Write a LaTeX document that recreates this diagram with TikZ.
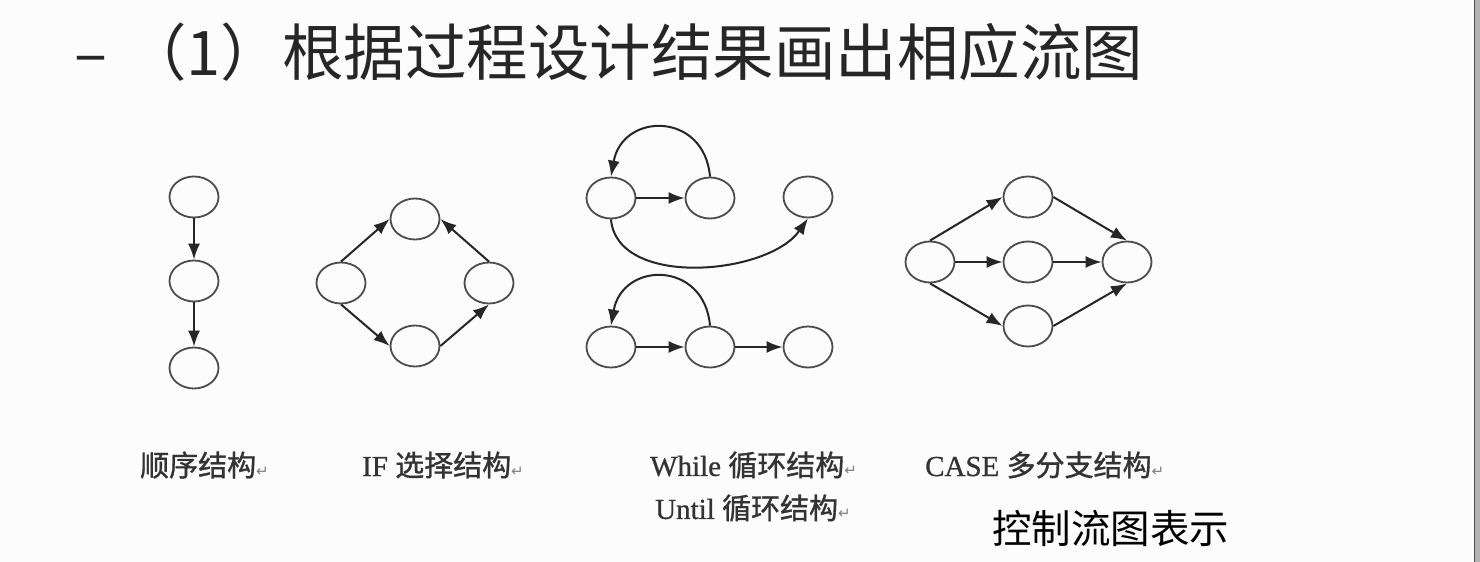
\documentclass[tikz,border=0pt]{standalone}
\usepackage{fontspec}
\setmainfont{Liberation Serif}[FakeBold=0.8]
\newfontfamily\cjk{Noto Sans CJK SC}
\newfontfamily\cjkcap{Noto Sans CJK SC}[FakeBold=1.2]
\newfontfamily\dejavu{DejaVu Sans}
\usetikzlibrary{shapes.geometric,arrows.meta}

\newlength{\du}
\setlength{\du}{1pt}

\definecolor{pagecolor}{rgb}{0.988,0.988,0.988}
\definecolor{titlecolor}{rgb}{0.15,0.15,0.15}
\definecolor{labelcolor}{rgb}{0.2,0.2,0.2}
\definecolor{linecolor}{rgb}{0.3,0.3,0.3}
\newcommand{\retmark}{{\dejavu\fontsize{15}{15}\selectfont\textcolor{gray}{↵}}}

\tikzset{
  flownode/.style={ellipse, draw=linecolor, line width=1.8\du, minimum width=49\du, minimum height=41\du, inner sep=0pt},
  flowedge/.style={draw=black!85, line width=2\du, -{Latex[length=16pt,width=12pt]}},
  caption/.style={anchor=west, inner sep=0pt, text=labelcolor, font=\fontsize{29}{29}\selectfont},
}

\begin{document}
\begin{tikzpicture}[x=1\du,y=-1\du]
\fill[pagecolor] (0,0) rectangle (1480,562);
\useasboundingbox (0,0) rectangle (1480,562);
\fill[gray!60] (1474,0) rectangle (1480,562);
\draw[black!70, line width=1\du] (1474.5,0) -- (1474.5,562);

% title
\node[anchor=west, inner sep=0pt, text=titlecolor, font=\cjk\fontsize{61.5}{61.5}\selectfont] (title) at (74,52) {–\hspace{18\du}（1）根据过程设计结果画出相应流图};

% sequence
\node[flownode] (s1) at (194,197) {};
\node[flownode] (s2) at (194,281) {};
\node[flownode] (s3) at (194,368) {};
\draw[flowedge] (s1.south) -- (s2.north);
\draw[flowedge] (s2.south) -- (s3.north);

% if
\node[flownode] (i1) at (341,283) {};
\node[flownode] (i2) at (415,219) {};
\node[flownode] (i3) at (415,346) {};
\node[flownode] (i4) at (489,283) {};
\draw[flowedge] (i1.north) -- (i2.west);
\draw[flowedge] (i4.north) -- (i2.east);
\draw[flowedge] (i1.south) -- (i3.west);
\draw[flowedge] (i3.east) -- (i4.south);

% while
\node[flownode] (w1) at (611,198) {};
\node[flownode] (w2) at (710,198) {};
\node[flownode] (w3) at (808,197) {};
\draw[flowedge] (w1.east) -- (w2.west);
\draw[flowedge] (w2.north) to[out=95,in=80,looseness=1.7] (w1.north);
\draw[flowedge] (w1.south) to[out=-85,in=-125,looseness=0.9] (w3.south);

% until
\node[flownode] (u1) at (611,347) {};
\node[flownode] (u2) at (710,347) {};
\node[flownode] (u3) at (808,347) {};
\draw[flowedge] (u1.east) -- (u2.west);
\draw[flowedge] (u2.east) -- (u3.west);
\draw[flowedge] (u2.north) to[out=95,in=80,looseness=1.7] (u1.north);

% case
\node[flownode] (c1) at (930,262) {};
\node[flownode] (c2) at (1028,197) {};
\node[flownode] (c3) at (1028,262) {};
\node[flownode] (c4) at (1028,326) {};
\node[flownode] (c5) at (1127,262) {};
\draw[flowedge] (c1.north) -- (c2.west);
\draw[flowedge] (c1.east) -- (c3.west);
\draw[flowedge] (c1.south) -- (c4.west);
\draw[flowedge] (c2.east) -- (c5.north);
\draw[flowedge] (c3.east) -- (c5.west);
\draw[flowedge] (c4.east) -- (c5.south);

% captions
\node[caption] (seqcap) at (140,465) {{\cjkcap 顺序结构}\retmark};
\node[caption] (ifcap) at (362,465) {IF {\cjkcap 选择结构}\retmark};
\node[caption] (whilecap) at (650,465) {While {\cjkcap 循环结构}\retmark};
\node[caption] (untilcap) at (655,508) {Until {\cjkcap 循环结构}\retmark};
\node[caption] (casecap) at (925,465) {CASE {\cjkcap 多分支结构}\retmark};
\node[anchor=west, inner sep=0pt, font=\cjk\fontsize{39.5}{39.5}\selectfont] (note) at (992,528) {控制流图表示};
\end{tikzpicture}
\end{document}
